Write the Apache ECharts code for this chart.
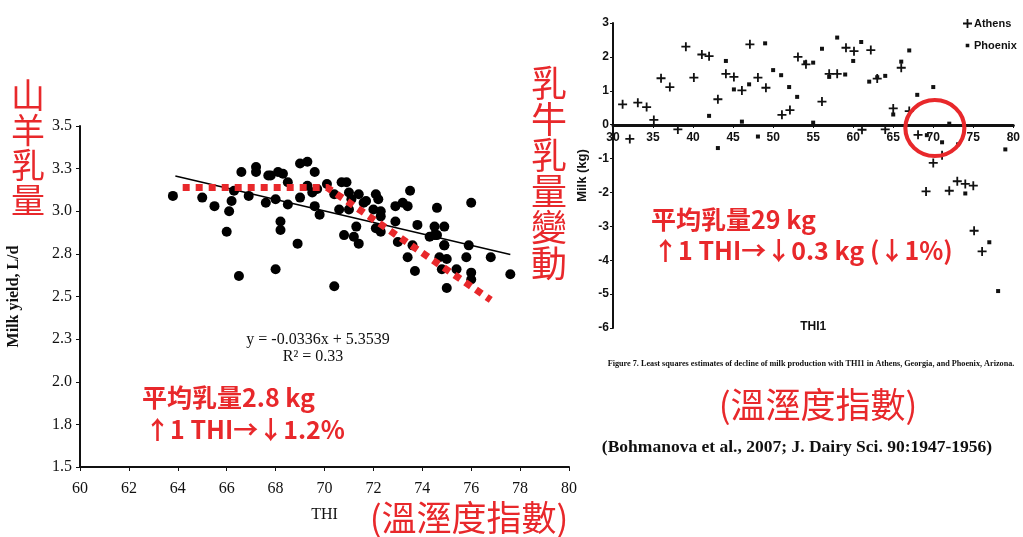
<!DOCTYPE html>
<html>
<head>
<meta charset="utf-8">
<script src="https://cdn.jsdelivr.net/npm/echarts@6/dist/echarts.min.js"></script>
<style>
html,body{margin:0;padding:0;background:#fff;}
#main{width:1023px;height:537px;}
</style>
</head>
<body>
<div id="main"></div>
<script>
// goat milk yield vs THI (left panel)
var goatPoints = [
  [63.8,3.09],[65.0,3.08],[65.5,3.03],[66.0,2.88],[66.1,3.00],[66.2,3.06],[66.3,3.12],[66.5,2.62],
  [66.6,3.23],[66.9,3.09],[67.2,3.26],[67.2,3.23],[67.6,3.05],[67.7,3.21],[67.8,3.21],[68.0,3.07],
  [68.0,2.66],[68.1,3.23],[68.2,2.89],[68.2,2.94],[68.3,3.22],[68.5,3.04],[68.5,3.17],[68.9,2.81],
  [69.0,3.28],[69.0,3.08],[69.3,3.29],[69.3,3.15],[69.5,3.11],[69.6,3.03],[69.6,3.23],[69.7,3.13],
  [69.8,2.98],[70.1,3.16],[70.4,2.56],[70.4,3.10],[70.6,3.01],[70.7,3.17],[70.8,2.86],[70.9,3.17],
  [71.0,3.01],[71.0,3.11],[71.1,3.07],[71.2,2.85],[71.3,2.91],[71.4,3.10],[71.4,2.81],[71.6,3.05],
  [71.7,3.06],[72.0,3.01],[72.1,2.90],[72.1,3.10],[72.2,3.07],[72.3,3.00],[72.3,2.97],[72.3,2.88],
  [72.9,3.03],[72.9,2.94],[73.0,2.82],[73.2,3.05],[73.4,3.03],[73.4,2.73],[73.5,3.12],[73.6,2.80],
  [73.7,2.65],[73.8,2.92],[74.3,2.85],[74.5,2.86],[74.5,2.91],[74.6,2.86],[74.6,3.02],[74.7,2.73],
  [74.8,2.66],[74.9,2.80],[74.9,2.91],[74.9,2.80],[75.0,2.72],[75.0,2.55],[75.4,2.66],[75.8,2.73],
  [75.9,2.80],[76.0,2.64],[76.0,2.60],[76.0,3.05],[76.8,2.73],[77.6,2.63]
];
var goatTrend = [[63.9,3.207],[77.6,2.746]];
var goatThreshold = [[64.2,3.14],[70.1,3.14],[76.8,2.48]];
var goatYTicks = [1.5, 3.5, 0.25];

// cow milk change vs THI1 (right panel)
var athens = [
  [31.2,0.60],[32.1,-0.42],[33.1,0.65],[34.2,0.52],[35.1,0.14],[36.0,1.37],[37.1,1.11],[38.1,-0.14],
  [39.1,2.30],[40.1,1.39],[41.1,2.07],[42.0,2.02],[43.1,0.75],[44.1,1.50],[45.1,1.41],[46.1,1.01],
  [47.1,2.37],[48.1,1.39],[49.1,1.09],[51.1,0.29],[52.1,0.43],[53.1,2.00],[54.1,1.78],[56.1,0.68],
  [57.0,1.50],[58.0,1.50],[59.1,2.27],[60.1,2.17],[61.1,-0.15],[62.2,2.20],[63.0,1.36],[64.0,-0.14],
  [65.0,0.48],[66.0,1.68],[67.0,0.40],[68.1,-0.30],[69.1,-1.97],[70.0,-1.13],[71.1,-0.90],[72.0,-1.95],
  [73.0,-1.67],[74.0,-1.75],[75.0,-1.80],[75.1,-3.13],[76.1,-3.74]
];
var phoenix = [
  [42.0,0.26],[43.1,-0.69],[44.1,1.88],[45.1,1.04],[46.1,0.09],[47.0,1.19],[48.1,-0.35],[49.0,2.40],
  [50.0,1.61],[51.0,1.46],[52.0,1.11],[53.0,0.82],[54.0,1.84],[55.0,1.83],[55.0,0.06],[56.1,2.24],
  [57.0,1.41],[58.0,2.57],[59.0,1.48],[60.0,1.88],[61.0,2.44],[62.0,1.27],[63.0,1.40],[64.0,1.44],
  [65.0,0.30],[66.0,1.86],[67.0,2.19],[68.0,0.88],[69.2,-0.31],[70.0,1.11],[71.1,-0.52],[72.0,0.03],
  [73.1,-0.58],[74.0,-2.03],[77.0,-3.47],[78.1,-4.91],[79.0,-0.73]
];
var highlight = [[70.2,-0.1]];

var red = '#e8282b';
var plus = 'path://M4,0H6V4H10V6H6V10H4V6H0V4H4Z';
// small square kept small inside the legend box
var dotIcon = 'path://M0,0H0.01V0.01H0Z M3,3H7V7H3Z M9.99,9.99H10V10H9.99Z';

var myChart = echarts.init(document.getElementById('main'));

function txt(x, y, text, size, opt){
  opt = opt || {};
  return {
    type: 'text', x: x, y: y, z: 100,
    style: {
      text: text,
      fill: opt.color || red,
      fontSize: size,
      fontFamily: opt.font || 'Noto Sans CJK TC',
      fontWeight: opt.weight || 'normal',
      lineHeight: opt.lineHeight,
      align: opt.align || 'left',
      verticalAlign: 'middle'
    }
  };
}

var serif = 'Liberation Serif';
var sans = 'Liberation Sans';

var option = {
  backgroundColor: '#fff',
  animation: false,
  grid: [
    {left: 80, top: 126, width: 489, height: 341},
    {left: 613, top: 23, width: 402, height: 305}
  ],
  xAxis: [
    {
      gridIndex: 0, type: 'value', min: 60, max: 80, interval: 2,
      name: 'THI', nameLocation: 'middle', nameGap: 40,
      nameTextStyle: {fontFamily: serif, fontSize: 16, color: '#111'},
      axisLine: {lineStyle: {color: '#111', width: 2}},
      axisTick: {show: true, length: 4, lineStyle: {color: '#111'}},
      axisLabel: {fontFamily: serif, fontSize: 16, color: '#111', margin: 14},
      splitLine: {show: false}
    },
    {
      gridIndex: 1, type: 'value', min: 30, max: 80, interval: 5,
      offset: -203,
      name: 'THI1', nameLocation: 'middle', nameGap: 196,
      nameTextStyle: {fontFamily: sans, fontSize: 12, fontWeight: 'bold', color: '#111'},
      axisLine: {onZero: false, lineStyle: {color: '#111', width: 3}},
      axisTick: {show: true, length: 3, lineStyle: {color: '#111'}},
      axisLabel: {fontFamily: sans, fontSize: 12, fontWeight: 'bold', color: '#111', margin: 7},
      splitLine: {show: false}
    }
  ],
  yAxis: [
    {
      gridIndex: 0, type: 'value', min: goatYTicks[0], max: goatYTicks[1], interval: goatYTicks[2],
      name: 'Milk yield, L/d', nameLocation: 'middle', nameGap: 58, nameRotate: 90,
      nameTextStyle: {fontFamily: serif, fontSize: 16, fontWeight: 'bold', color: '#111'},
      axisLine: {show: true, lineStyle: {color: '#111', width: 2}},
      axisTick: {show: true, length: 4, lineStyle: {color: '#111'}},
      axisLabel: {fontFamily: serif, fontSize: 16, color: '#111', margin: 8,
        formatter: function(v){ return v.toFixed(1); }},
      splitLine: {show: false}
    },
    {
      gridIndex: 1, type: 'value', min: -6, max: 3, interval: 1,
      name: 'Milk (kg)', nameLocation: 'middle', nameGap: 24, nameRotate: 90,
      nameTextStyle: {fontFamily: sans, fontSize: 13, fontWeight: 'bold', color: '#111'},
      axisLine: {show: true, onZero: false, lineStyle: {color: '#111', width: 2}},
      axisTick: {show: true, length: 3, lineStyle: {color: '#111'}},
      axisLabel: {fontFamily: sans, fontSize: 12, fontWeight: 'bold', color: '#111', margin: 4},
      splitLine: {show: false}
    }
  ],
  legend: {
    orient: 'vertical', left: 958, top: 13, itemGap: 11,
    itemWidth: 9, itemHeight: 9,
    textStyle: {fontFamily: sans, fontSize: 11, fontWeight: 'bold', color: '#111', padding: [0,0,0,-3]},
    data: [
      {name: 'Athens', icon: plus},
      {name: 'Phoenix', icon: dotIcon}
    ]
  },
  series: [
    {
      type: 'scatter', name: 'Goat', xAxisIndex: 0, yAxisIndex: 0,
      data: goatPoints, symbolSize: 10, itemStyle: {color: '#000', opacity: 1}
    },
    {
      type: 'line', name: 'Trend', xAxisIndex: 0, yAxisIndex: 0,
      data: goatTrend, showSymbol: false, lineStyle: {color: '#000', width: 1.5}
    },
    {
      type: 'line', name: 'Threshold', xAxisIndex: 0, yAxisIndex: 0, z: 5,
      data: goatThreshold, showSymbol: false,
      lineStyle: {color: red, width: 7, type: [7, 6], cap: 'butt', join: 'miter'}
    },
    {
      type: 'scatter', name: 'Athens', xAxisIndex: 1, yAxisIndex: 1,
      data: athens, symbol: plus, symbolSize: 9, itemStyle: {color: '#111', opacity: 1}
    },
    {
      type: 'scatter', name: 'Phoenix', xAxisIndex: 1, yAxisIndex: 1,
      data: phoenix, symbol: 'rect', symbolSize: 4, itemStyle: {color: '#111', opacity: 1}
    },
    {
      type: 'scatter', name: 'Circle', xAxisIndex: 1, yAxisIndex: 1, z: 6,
      data: highlight, symbol: 'circle', symbolSize: [59, 56],
      itemStyle: {color: 'rgba(0,0,0,0)', borderColor: red, borderWidth: 4, opacity: 1}
    }
  ],
  graphic: [
    txt(28, 148, '山\n羊\n乳\n量', 34, {align: 'center', lineHeight: 35}),
    txt(549, 173, '乳\n牛\n乳\n量\n變\n動', 36, {align: 'center', lineHeight: 36}),
    txt(142, 397, '平均乳量2.8 kg', 25, {weight: 'bold'}),
    txt(145, 429, '↑1 THI→↓1.2%', 25, {weight: 'bold'}),
    txt(651, 219, '平均乳量29 kg', 25, {weight: 'bold'}),
    txt(653, 250, '↑1 THI→↓0.3 kg (↓1%)', 25, {weight: 'bold'}),
    txt(469, 518, '(溫溼度指數)', 35, {align: 'center'}),
    txt(818, 405, '(溫溼度指數)', 35, {align: 'center'}),
    txt(318, 340, 'y = -0.0336x + 5.3539', 16, {color: '#111', font: serif, align: 'center'}),
    txt(313, 357, 'R² = 0.33', 16, {color: '#111', font: serif, align: 'center'}),
    txt(811, 364, 'Figure 7. Least squares estimates of decline of milk production with THI1 in Athens, Georgia, and Phoenix, Arizona.',
      8.2, {color: '#111', font: serif, weight: 'bold', align: 'center'}),
    txt(797, 447, '(Bohmanova et al., 2007; J. Dairy Sci. 90:1947-1956)', 17.5,
      {color: '#111', font: serif, weight: 'bold', align: 'center'})
  ]
};
myChart.setOption(option);
</script>
</body>
</html>
